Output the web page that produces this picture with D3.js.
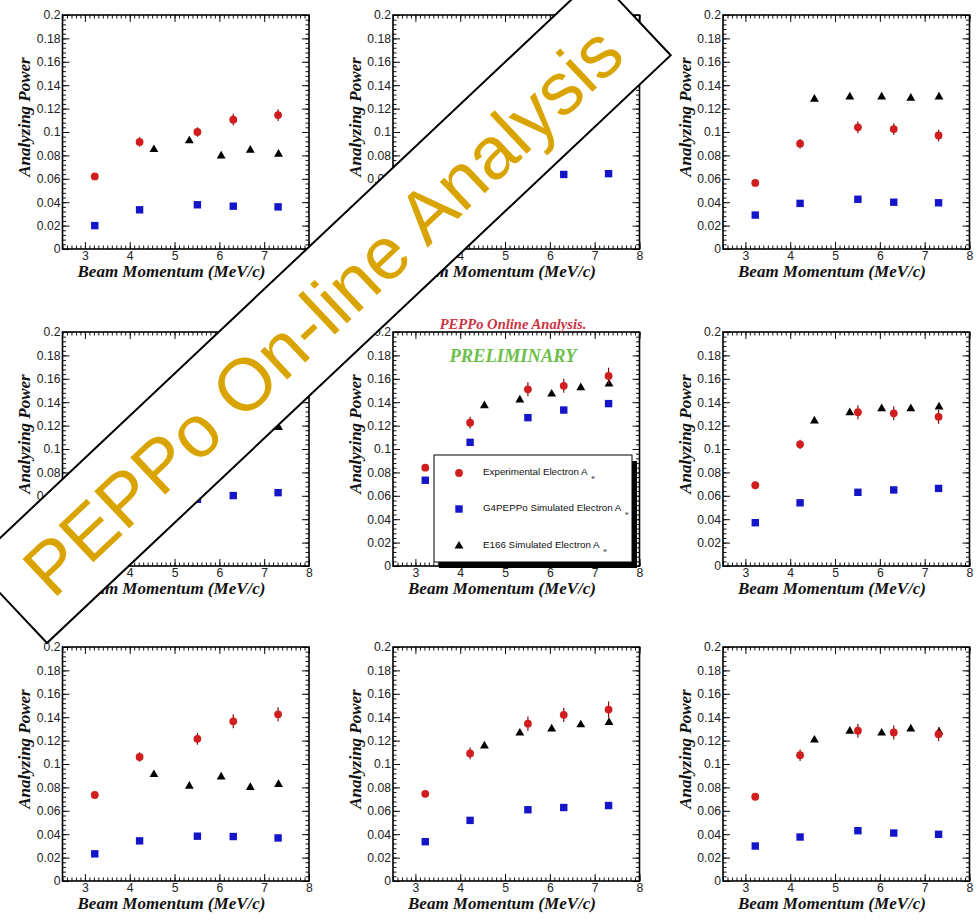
<!DOCTYPE html>
<html><head><meta charset="utf-8">
<script src="https://cdn.jsdelivr.net/npm/d3@7"></script>
<style>body{margin:0;background:#fff} svg{display:block}</style>
</head><body><svg id="c" width="980" height="922"></svg>
<script>
// ---- data ----
const expX  = [3.22, 4.22, 5.51, 6.31, 7.31];
const g4X   = [3.22, 4.22, 5.51, 6.31, 7.31];
const e166X = [4.54, 5.33, 6.04, 6.69, 7.32];

const expA = [
  [0.062, 0.0915, 0.100, 0.1105, 0.1145],
  [0.070, 0.105, 0.125, 0.130, 0.133],
  [0.0565, 0.090, 0.104, 0.1025, 0.097],
  [0.070, 0.105, 0.124, 0.130, 0.134],
  [0.084, 0.1225, 0.151, 0.154, 0.1625],
  [0.069, 0.104, 0.1315, 0.1305, 0.1275],
  [0.0735, 0.106, 0.1215, 0.1365, 0.1425],
  [0.0745, 0.109, 0.1345, 0.142, 0.1465],
  [0.072, 0.1075, 0.1285, 0.127, 0.1255]
];
const expErr = [
  [0.002, 0.004, 0.004, 0.005, 0.005],
  [0.002, 0.004, 0.005, 0.006, 0.006],
  [0.002, 0.004, 0.005, 0.005, 0.005],
  [0.002, 0.004, 0.005, 0.006, 0.006],
  [0.002, 0.005, 0.006, 0.006, 0.007],
  [0.002, 0.004, 0.006, 0.006, 0.006],
  [0.002, 0.004, 0.005, 0.006, 0.006],
  [0.002, 0.005, 0.006, 0.006, 0.007],
  [0.002, 0.005, 0.006, 0.006, 0.006]
];
const g4A = [
  [0.020, 0.0335, 0.0378, 0.0366, 0.036],
  [0.034, 0.051, 0.060, 0.0637, 0.0644],
  [0.029, 0.039, 0.0425, 0.040, 0.0395],
  [0.034, 0.050, 0.057, 0.0602, 0.0627],
  [0.0733, 0.1057, 0.1268, 0.1333, 0.1388],
  [0.037, 0.054, 0.063, 0.065, 0.0663],
  [0.0232, 0.0343, 0.0383, 0.038, 0.0368],
  [0.0336, 0.0518, 0.0609, 0.0628, 0.0645],
  [0.0299, 0.0376, 0.043, 0.041, 0.0399]
];
const e166A = [
  [0.085, 0.0925, 0.0795, 0.0845, 0.081],
  [0.110, 0.120, 0.125, 0.128, 0.130],
  [0.128, 0.130, 0.130, 0.129, 0.130],
  [0.104, 0.111, 0.114, 0.117, 0.1185],
  [0.137, 0.142, 0.147, 0.1525, 0.1555],
  [0.124, 0.131, 0.1345, 0.1345, 0.136],
  [0.091, 0.081, 0.089, 0.080, 0.0825],
  [0.1155, 0.1265, 0.130, 0.1335, 0.1355],
  [0.1205, 0.128, 0.1265, 0.130, 0.1275]
];
const xTicks = [3, 4, 5, 6, 7, 8];
const yTicks = [0, 0.02, 0.04, 0.06, 0.08, 0.1, 0.12, 0.14, 0.16, 0.18, 0.2];
const xTitle = "Beam Momentum (MeV/c)";
const yTitle = "Analyzing Power";
const legendLabels = ["Experimental Electron A", "G4PEPPo Simulated Electron A", "E166 Simulated Electron A"];
const bannerText = "PEPPo On-line Analysis";

// ---- layout ----
const colLeft = [62.5, 393, 723];
const rowTop = [15, 332, 647];
const PW = 246.5, PH = 234;
const RED = "#d01e1e", BLUE = "#1414c8", BLACK = "#000";
const SANS = "'Liberation Sans', Arial, Helvetica, sans-serif";
const SERIF = "'Liberation Serif', 'Times New Roman', serif";

const svg = d3.select("#c");
svg.append("rect").attr("width", 980).attr("height", 922).attr("fill", "#fff");

const yFmt = d => d === 0 ? "0" : String(+d.toFixed(2));
const xMinor = d3.range(2.5, 8.0001, 0.1).map(v => +v.toFixed(2));
const yMinor = d3.range(0, 0.2001, 0.004).map(v => +v.toFixed(3));

for (let p = 0; p < 9; p++) {
  const left = colLeft[p % 3], top = rowTop[Math.floor(p / 3)];
  const x = d3.scaleLinear().domain([2.5, 8]).range([left, left + PW]);
  const y = d3.scaleLinear().domain([0, 0.2]).range([top + PH, top]);
  const g = svg.append("g");

  const mk = (axis, tr) => {
    const a = g.append("g").attr("transform", tr).call(axis);
    a.select(".domain").remove();
    a.selectAll("line").attr("stroke", "#111").attr("stroke-width", 1);
    a.selectAll("text").attr("font-family", SANS).attr("font-size", 12.2).attr("fill", "#222");
    return a;
  };
  mk(d3.axisBottom(x).tickValues(xTicks).tickSizeInner(-7).tickSizeOuter(0).tickPadding(2).tickFormat(d3.format("d")), `translate(0,${top + PH})`);
  mk(d3.axisBottom(x).tickValues(xMinor).tickSizeInner(-3.5).tickSizeOuter(0).tickFormat(""), `translate(0,${top + PH})`);
  mk(d3.axisTop(x).tickValues(xTicks).tickSizeInner(-7).tickSizeOuter(0).tickFormat(""), `translate(0,${top})`);
  mk(d3.axisTop(x).tickValues(xMinor).tickSizeInner(-3.5).tickSizeOuter(0).tickFormat(""), `translate(0,${top})`);
  mk(d3.axisLeft(y).tickValues(yTicks).tickSizeInner(-7).tickSizeOuter(0).tickPadding(2).tickFormat(yFmt), `translate(${left},0)`);
  mk(d3.axisLeft(y).tickValues(yMinor).tickSizeInner(-3.5).tickSizeOuter(0).tickFormat(""), `translate(${left},0)`);
  mk(d3.axisRight(y).tickValues(yTicks).tickSizeInner(-7).tickSizeOuter(0).tickFormat(""), `translate(${left + PW},0)`);
  mk(d3.axisRight(y).tickValues(yMinor).tickSizeInner(-3.5).tickSizeOuter(0).tickFormat(""), `translate(${left + PW},0)`);

  g.append("rect").attr("x", left).attr("y", top).attr("width", PW).attr("height", PH)
    .attr("fill", "none").attr("stroke", "#000").attr("stroke-width", 1.6);

  g.append("text").attr("x", left + 109).attr("y", top + PH + 28).attr("text-anchor", "middle")
    .attr("font-family", SERIF).attr("font-weight", "bold").attr("font-style", "italic")
    .attr("font-size", 17).attr("fill", "#111").text(xTitle);
  g.append("text").attr("transform", `translate(${left - 38},${top + 102}) rotate(-90)`)
    .attr("text-anchor", "middle").attr("dominant-baseline", "central")
    .attr("font-family", SERIF).attr("font-weight", "bold").attr("font-style", "italic")
    .attr("font-size", 17).attr("fill", "#111").text(yTitle);

  g.selectAll(".tri").data(e166X.map((v, i) => [v, e166A[p][i]])).join("path")
    .attr("d", d3.symbol(d3.symbolTriangle, 34)())
    .attr("transform", d => `translate(${x(d[0])},${y(d[1])})`).attr("fill", BLACK);
  g.selectAll(".sq").data(g4X.map((v, i) => [v, g4A[p][i]])).join("rect")
    .attr("x", d => x(d[0]) - 3.7).attr("y", d => y(d[1]) - 3.7)
    .attr("width", 7.4).attr("height", 7.4).attr("fill", BLUE);
  const ex = expX.map((v, i) => [v, expA[p][i], expErr[p][i]]);
  g.selectAll(".eb").data(ex).join("line")
    .attr("x1", d => x(d[0])).attr("x2", d => x(d[0]))
    .attr("y1", d => y(d[1] - d[2])).attr("y2", d => y(d[1] + d[2]))
    .attr("stroke", "#7a1010").attr("stroke-width", 1.2);
  g.selectAll(".ci").data(ex).join("circle")
    .attr("cx", d => x(d[0])).attr("cy", d => y(d[1])).attr("r", 3.9).attr("fill", RED);
}

// ---- middle panel annotations ----
svg.append("text").attr("x", 513).attr("y", 329).attr("text-anchor", "middle")
  .attr("font-family", SERIF).attr("font-weight", "bold").attr("font-style", "italic")
  .attr("font-size", 14.6).attr("fill", "#cc3344").text("PEPPo Online Analysis.");
svg.append("text").attr("x", 513).attr("y", 362).attr("text-anchor", "middle")
  .attr("font-family", SERIF).attr("font-weight", "bold").attr("font-style", "italic")
  .attr("font-size", 18.5).attr("fill", "#6cc04a").text("PRELIMINARY");

// legend
const lg = svg.append("g");
const LX = 434, LY = 455, LW = 198, LH = 107;
lg.append("rect").attr("x", LX + 5).attr("y", LY + 6).attr("width", LW).attr("height", LH).attr("fill", "#000");
lg.append("rect").attr("x", LX).attr("y", LY).attr("width", LW).attr("height", LH)
  .attr("fill", "#fff").attr("stroke", "#000").attr("stroke-width", 1);
const ly = [473, 509, 546];
lg.append("circle").attr("cx", 459).attr("cy", ly[0]).attr("r", 3.9).attr("fill", RED);
lg.append("rect").attr("x", 459 - 3.7).attr("y", ly[1] - 3.7).attr("width", 7.4).attr("height", 7.4).attr("fill", BLUE);
lg.append("path").attr("d", d3.symbol(d3.symbolTriangle, 34)()).attr("transform", `translate(459,${ly[2]})`).attr("fill", BLACK);
legendLabels.forEach((t, i) => {
  const tx = lg.append("text").attr("x", 483).attr("y", ly[i] + 2)
    .attr("font-family", SANS).attr("font-size", 9.8).attr("fill", "#111");
  tx.append("tspan").text(t);
  tx.append("tspan").attr("dx", 4).attr("dy", 4).attr("font-size", 6).text("e");
});

// ---- banner ----
const bn = svg.append("g").attr("transform", "translate(47,643) rotate(-43.3)");
bn.append("rect").attr("x", 0).attr("y", -108.6).attr("width", 857).attr("height", 108.6)
  .attr("fill", "#fff").attr("stroke", "#000").attr("stroke-width", 2);
bn.append("text").attr("x", 428.5).attr("y", -27).attr("text-anchor", "middle")
  .attr("font-family", SANS).attr("font-size", 74).attr("fill", "#daa400").text(bannerText);
</script></body></html>
